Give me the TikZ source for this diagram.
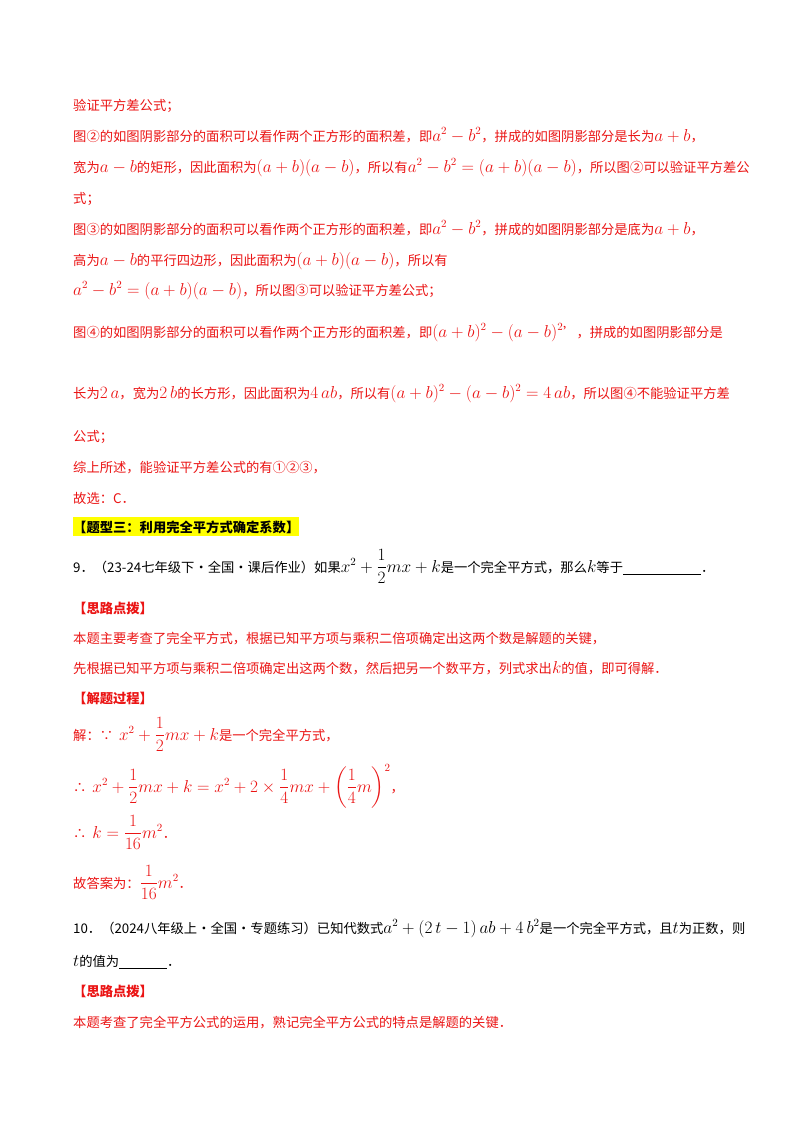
\documentclass[tikz,border=0pt]{standalone}
\usepackage{fontspec}
\usepackage{amsmath}
\setmainfont{Noto Sans CJK SC}
\definecolor{rd}{RGB}{235,20,20}
\definecolor{hl}{RGB}{255,255,0}
\newcommand{\mymath}[1]{{\fontsize{16}{16}\selectfont$#1$}}
\begin{document}
\begin{tikzpicture}[x=1pt,y=-1pt,
  ln/.style={anchor=base west,inner sep=0pt,font=\fontsize{13.3}{16}\selectfont,text=rd},
  bk/.style={ln,text=black}]
\useasboundingbox[fill=white] (0,0) rectangle (800,1132);
\node[ln] (l1) at (73,110) {验证平方差公式；};
\node[ln] (l2) at (73,141) {图②的如图阴影部分的面积可以看作两个正方形的面积差，即\mymath{a^2-b^2}，拼成的如图阴影部分是长为\mymath{a+b}，};
\node[ln] (l3) at (73,172) {宽为\mymath{a-b}的矩形，因此面积为\mymath{(a+b)(a-b)}，所以有\mymath{a^2-b^2=(a+b)(a-b)}，所以图②可以验证平方差公};
\node[ln] (l4) at (73,203) {式；};
\node[ln] (l5) at (73,234) {图③的如图阴影部分的面积可以看作两个正方形的面积差，即\mymath{a^2-b^2}，拼成的如图阴影部分是底为\mymath{a+b}，};
\node[ln] (l6) at (73,265) {高为\mymath{a-b}的平行四边形，因此面积为\mymath{(a+b)(a-b)}，所以有};
\node[ln] (l7) at (73,295) {\mymath{a^2-b^2=(a+b)(a-b)}，所以图③可以验证平方差公式；};
\node[ln] (l8) at (73,337) {图④的如图阴影部分的面积可以看作两个正方形的面积差，即\mymath{(a+b)^2-(a-b)^2}’，拼成的如图阴影部分是};
\node[ln] (l9) at (73,398) {长为\mymath{2\,a}，宽为\mymath{2\,b}的长方形，因此面积为\mymath{4\,ab}，所以有\mymath{(a+b)^2-(a-b)^2=4\,ab}，所以图④不能验证平方差};
\node[ln] (l10) at (73,441) {公式；};
\node[ln] (l11) at (73,472) {综上所述，能验证平方差公式的有①②③，};
\node[ln] (l12) at (73,503) {故选：C．};
\node[bk,fill=hl,inner ysep=3pt,font=\fontsize{13.3}{16}\selectfont\bfseries] (h) at (73,532) {【题型三：利用完全平方式确定系数】};
\node[bk] (q9) at (73,572) {9．（23-24七年级下·全国·课后作业）如果\mymath{x^2+\dfrac12 mx+k}是一个完全平方式，那么\mymath{k}等于\underline{\hspace{78pt}}．};
\node[ln,font=\fontsize{13.3}{16}\selectfont\bfseries] (s1) at (73,613) {【思路点拨】};
\node[ln] (s2) at (73,643) {本题主要考查了完全平方式，根据已知平方项与乘积二倍项确定出这两个数是解题的关键，};
\node[ln] (s3) at (73,673) {先根据已知平方项与乘积二倍项确定出这两个数，然后把另一个数平方，列式求出\mymath{k}的值，即可得解．};
\node[ln,font=\fontsize{13.3}{16}\selectfont\bfseries] (p1) at (73,703) {【解题过程】};
\node[ln] (p2) at (73,740) {解：∵\ \ \mymath{x^2+\dfrac12mx+k}是一个完全平方式，};
\node[ln] (p3) at (73,792) {∴\ \ \mymath{x^2+\dfrac12mx+k=x^2+2\times\dfrac14mx+\left(\dfrac14m\right)^2}，};
\node[ln] (p4) at (73,838) {∴\ \ \mymath{k=\dfrac1{16}m^2}．};
\node[ln] (p5) at (73,888) {故答案为：\mymath{\dfrac1{16}m^2}．};
\node[bk] (q10) at (73,933) {10．（2024八年级上·全国·专题练习）已知代数式\mymath{a^2+(2\,t-1)\,ab+4\,b^2}是一个完全平方式，且\mymath{t}为正数，则};
\node[bk] (q10b) at (73,966) {\mymath{t}的值为\underline{\hspace{48pt}}．};
\node[ln,font=\fontsize{13.3}{16}\selectfont\bfseries] (t1) at (73,996) {【思路点拨】};
\node[ln] (t2) at (73,1027) {本题考查了完全平方公式的运用，熟记完全平方公式的特点是解题的关键．};
\end{tikzpicture}
\end{document}
